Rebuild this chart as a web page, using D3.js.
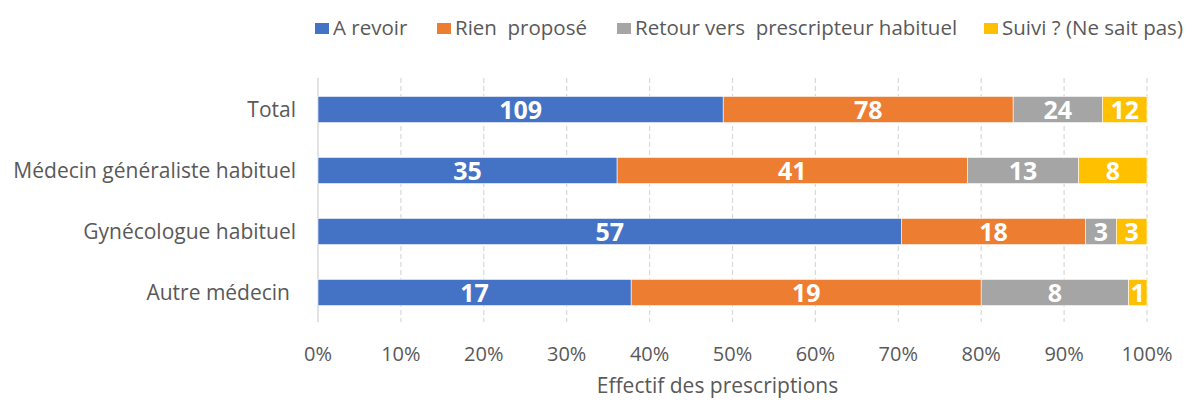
<!DOCTYPE html>
<html>
<head>
<meta charset="utf-8">
<script src="https://cdnjs.cloudflare.com/ajax/libs/d3/7.8.5/d3.min.js"></script>
<style>
  body { margin: 0; background: #fff; }
</style>
</head>
<body>
<div id="chart-area"></div>
<script>
var categories = ["Total", "Médecin généraliste habituel", "Gynécologue habituel", "Autre médecin"];
var seriesNames = ["A revoir", "Rien  proposé", "Retour vers  prescripteur habituel", "Suivi ? (Ne sait pas)"];
var aRevoir = [109, 35, 57, 17];
var rienPropose = [78, 41, 18, 19];
var retour = [24, 13, 3, 8];
var suivi = [12, 8, 3, 1];
var tickValues = [0, 0.1, 0.2, 0.3, 0.4, 0.5, 0.6, 0.7, 0.8, 0.9, 1];
var colors = ["#4472C4", "#ED7D31", "#A5A5A5", "#FFC000"];

var W = 1193, H = 403;
var font = "'Open Sans', sans-serif";

var svg = d3.select("#chart-area")
    .append("svg")
    .attr("width", W)
    .attr("height", H)
    .style("font-family", font);

var x = d3.scaleLinear().domain([0, 1]).range([318, 1147]);
var y = d3.scaleBand()
    .domain(categories)
    .range([79, 323])
    .paddingInner(0.57)
    .paddingOuter(0.285);

// build table
var table = categories.map((c, i) => {
    var vals = [aRevoir[i], rienPropose[i], retour[i], suivi[i]];
    var row = { cat: c };
    seriesNames.forEach((s, j) => { row[s] = vals[j]; });
    return row;
});

var stack = d3.stack()
    .keys(seriesNames)
    .offset(d3.stackOffsetExpand);
var layers = stack(table);

// gridlines
svg.append("g")
    .selectAll("line")
    .data(tickValues.slice(1))
    .enter()
    .append("line")
    .attr("x1", d => x(d))
    .attr("x2", d => x(d))
    .attr("y1", 78)
    .attr("y2", 322)
    .attr("stroke", "#D9D9D9")
    .attr("stroke-width", 1.2)
    .attr("stroke-dasharray", "5,3");

// axis line at 0
svg.append("line")
    .attr("x1", x(0))
    .attr("x2", x(0))
    .attr("y1", 78)
    .attr("y2", 322)
    .attr("stroke", "#D9D9D9")
    .attr("stroke-width", 1.5);

// bars
var groups = svg.selectAll(".layer")
    .data(layers)
    .enter()
    .append("g")
    .attr("class", "layer")
    .attr("fill", (d, i) => colors[i]);

groups.selectAll("rect")
    .data(d => d)
    .enter()
    .append("rect")
    .attr("x", d => x(d[0]))
    .attr("y", d => y(d.data.cat))
    .attr("width", d => x(d[1]) - x(d[0]))
    .attr("height", y.bandwidth())
    .attr("stroke", "#fff")
    .attr("stroke-width", 0.6);

// value labels
groups.selectAll("text")
    .data((d) => d.map(p => ({ p: p, key: d.key })))
    .enter()
    .append("text")
    .attr("x", d => (x(d.p[0]) + x(d.p[1])) / 2)
    .attr("y", d => y(d.p.data.cat) + y.bandwidth() / 2)
    .attr("dy", "0.36em")
    .attr("text-anchor", "middle")
    .attr("font-size", "25px")
    .attr("font-weight", "bold")
    .attr("fill", "#fff")
    .text(d => d.p.data[d.key]);

// y labels
svg.append("g")
    .selectAll("text")
    .data(categories)
    .enter()
    .append("text")
    .attr("x", d => d === "Autre médecin" ? 290 : 296)
    .attr("y", d => y(d) + y.bandwidth() / 2)
    .attr("dy", "0.35em")
    .attr("text-anchor", "end")
    .attr("font-size", "21px")
    .attr("fill", "#595959")
    .text(d => d);

// x tick labels
svg.append("g")
    .selectAll("text")
    .data(tickValues)
    .enter()
    .append("text")
    .attr("x", d => x(d))
    .attr("y", 354)
    .attr("dy", "0.35em")
    .attr("text-anchor", "middle")
    .attr("font-size", "20px")
    .attr("fill", "#595959")
    .text(d => d3.format(".0%")(d));

// x title
svg.append("text")
    .attr("x", x(0.5) - 15)
    .attr("y", 386)
    .attr("dy", "0.35em")
    .attr("text-anchor", "middle")
    .attr("font-size", "21px")
    .attr("fill", "#595959")
    .text("Effectif des prescriptions");

// legend
var legendX = [315, 437, 617, 984];
var legend = svg.append("g")
    .selectAll("g")
    .data(seriesNames)
    .enter()
    .append("g")
    .attr("transform", (d, i) => `translate(${legendX[i]}, 28)`);

legend.append("rect")
    .attr("x", 0)
    .attr("y", -5)
    .attr("width", 14)
    .attr("height", 11)
    .attr("fill", (d, i) => colors[i]);

legend.append("text")
    .attr("x", 18)
    .attr("y", 0)
    .attr("dy", "0.35em")
    .attr("font-size", "20.5px")
    .attr("fill", "#595959")
    .style("white-space", "pre")
    .text(d => d);
</script>
</body>
</html>
